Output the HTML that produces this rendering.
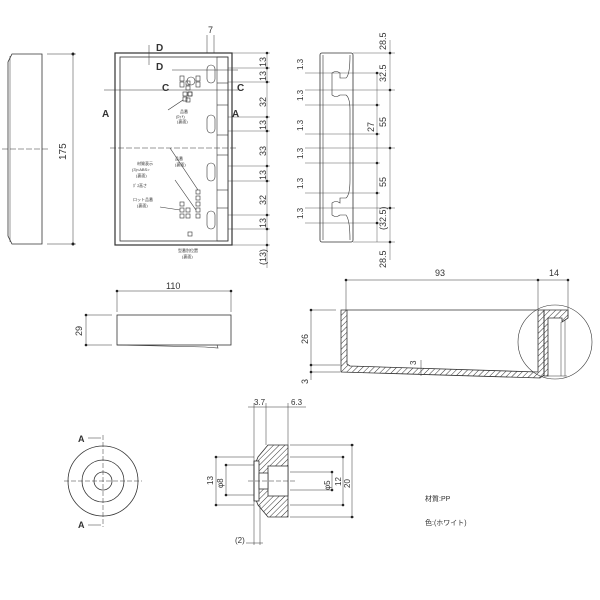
<!DOCTYPE html>
<html><head><meta charset="utf-8"><style>
html,body{margin:0;padding:0;background:#fff}
svg{display:block}
text{font-family:"Liberation Sans","Noto Sans CJK JP",sans-serif;fill:#333}
</style></head><body>
<svg width="600" height="600" viewBox="0 0 600 600" xmlns="http://www.w3.org/2000/svg">
<defs>
<pattern id="h" width="4" height="4" patternUnits="userSpaceOnUse" patternTransform="rotate(45)">
<line x1="0" y1="0" x2="0" y2="4" stroke="#333" stroke-width="1"/></pattern>
</defs>
<g stroke="#333" fill="none" stroke-width="0.8">
<!-- left side view -->
<path d="M12 54 L42 54 L42 244 L12 244 L8 236 L8 62 Z"/>
<line x1="10" y1="56" x2="10" y2="242" stroke-width="0.5"/>
<line x1="47" y1="54" x2="76" y2="54" stroke-width="0.5"/>
<line x1="47" y1="244" x2="76" y2="244" stroke-width="0.5"/>
<line x1="73" y1="54" x2="73" y2="244" stroke-width="0.5"/>
<line x1="2" y1="149" x2="48" y2="149" stroke-dasharray="6 2" stroke-width="0.6"/>
<!-- front view -->
<rect x="115" y="53" width="117" height="192" stroke-width="1.2"/>
<rect x="120" y="57" width="108" height="184"/>
<rect x="217" y="57" width="11" height="184" stroke-width="0.6"/>
<g stroke-width="0.6">
<line x1="217" y1="83" x2="228" y2="83"/><line x1="217" y1="105" x2="228" y2="105"/>
<line x1="217" y1="135" x2="228" y2="135"/><line x1="217" y1="155" x2="228" y2="155"/>
<line x1="217" y1="190" x2="228" y2="190"/><line x1="217" y1="208" x2="228" y2="208"/>
<rect x="207" y="65" width="8" height="18" rx="4"/><rect x="207" y="115" width="8" height="18" rx="4"/>
<rect x="207" y="163" width="8" height="18" rx="4"/><rect x="207" y="211" width="8" height="18" rx="4"/>
<rect x="186" y="81" width="4" height="4"/><rect x="186" y="86" width="4" height="4"/><rect x="186" y="98" width="4" height="4"/>
<circle cx="191" cy="81" r="4"/>
<rect x="180" y="76" width="4" height="5"/><rect x="180" y="82" width="4" height="5"/>
<rect x="196" y="76" width="4" height="5"/><rect x="196" y="82" width="4" height="5"/>
<rect x="183" y="92" width="4" height="4"/><rect x="183" y="97" width="4" height="4"/><rect x="188" y="92" width="4" height="4"/>
<rect x="188" y="92" width="4" height="4"/>
<rect x="196" y="190" width="4" height="4"/><rect x="196" y="196" width="4" height="4"/><rect x="196" y="202" width="4" height="4"/><rect x="196" y="208" width="4" height="4"/><rect x="196" y="214" width="4" height="4"/>
<rect x="180" y="202" width="4" height="4"/><rect x="180" y="208" width="4" height="4"/><rect x="180" y="214" width="4" height="4"/>
<rect x="186" y="208" width="4" height="4"/><rect x="186" y="214" width="4" height="4"/>
<rect x="188" y="232" width="4" height="4"/>
<line x1="168" y1="110" x2="183" y2="100"/>
<line x1="170" y1="148" x2="198" y2="190"/>
<line x1="175" y1="180" x2="196" y2="210"/>
<line x1="160" y1="207" x2="180" y2="210"/>
</g>
<line x1="104" y1="90" x2="238" y2="90" stroke-width="0.5"/>
<line x1="172" y1="70" x2="238" y2="70" stroke-width="0.5"/>
<line x1="110" y1="148" x2="236" y2="148" stroke-dasharray="6 2" stroke-width="0.5"/>
<line x1="149" y1="45" x2="149" y2="65" stroke-width="0.5"/>
<line x1="207" y1="35" x2="207" y2="53" stroke-width="0.5"/><line x1="214" y1="35" x2="214" y2="53" stroke-width="0.5"/>
<!-- front dims -->
<line x1="232" y1="53" x2="270" y2="53" stroke-width="0.4"/>
<g stroke-width="0.4">
<line x1="228" y1="68" x2="270" y2="68"/><line x1="228" y1="82" x2="270" y2="82"/>
<line x1="228" y1="117" x2="270" y2="117"/><line x1="228" y1="131" x2="270" y2="131"/>
<line x1="228" y1="166" x2="270" y2="166"/><line x1="228" y1="181" x2="270" y2="181"/>
<line x1="228" y1="215" x2="270" y2="215"/><line x1="228" y1="229" x2="270" y2="229"/>
<line x1="232" y1="245" x2="270" y2="245"/>
<line x1="267" y1="53" x2="267" y2="268"/>
</g>
<!-- side view 3 -->
<rect x="320" y="53" width="33" height="189" rx="2"/>
<path d="M323 55 L323 240 M350 55 Q350 75 346 78 L340 78 L340 73 Q336 70 332 73 L332 95 Q336 98 340 95 L346 95 Q350 98 350 110 L350 180 Q350 195 346 198 L340 198 L340 203 Q336 200 332 203 L332 215 Q336 218 340 215 L346 215 Q350 220 350 240" stroke-width="0.6"/>
<g stroke-width="0.4">
<line x1="305" y1="73" x2="380" y2="73"/><line x1="305" y1="90" x2="395" y2="90"/>
<line x1="305" y1="105" x2="380" y2="105"/><line x1="305" y1="134" x2="380" y2="134"/>
<line x1="305" y1="148" x2="395" y2="148"/><line x1="305" y1="163" x2="380" y2="163"/>
<line x1="305" y1="193" x2="380" y2="193"/><line x1="305" y1="208" x2="395" y2="208"/>
<line x1="305" y1="223" x2="380" y2="223"/>
<line x1="353" y1="53" x2="395" y2="53"/><line x1="353" y1="242" x2="395" y2="242"/>
<line x1="377" y1="73" x2="377" y2="242"/><line x1="390" y1="40" x2="390" y2="260"/>
</g>
<!-- 110 view -->
<line x1="117" y1="291" x2="231" y2="291" stroke-width="0.5"/>
<line x1="117" y1="291" x2="117" y2="312" stroke-width="0.5"/><line x1="231" y1="291" x2="231" y2="312" stroke-width="0.5"/>
<rect x="117" y="315" width="114" height="30"/>
<path d="M117 345 L205 347 L218 348 L217 345" stroke-width="0.6"/>
<line x1="85" y1="315" x2="112" y2="315" stroke-width="0.5"/><line x1="85" y1="345" x2="112" y2="345" stroke-width="0.5"/>
<line x1="86" y1="315" x2="86" y2="345" stroke-width="0.5"/>
<!-- section -->
<line x1="346" y1="280" x2="538" y2="280" stroke-width="0.5"/><line x1="538" y1="280" x2="568" y2="280" stroke-width="0.5"/>
<line x1="346" y1="280" x2="346" y2="310" stroke-width="0.5"/><line x1="538" y1="280" x2="538" y2="310" stroke-width="0.5"/><line x1="568" y1="280" x2="568" y2="318" stroke-width="0.5"/>
<line x1="347" y1="310" x2="537" y2="310"/>
<path d="M341 310 L347 310 L347 364 L350 366 L538 372 L538 310 L544 310 L544 375 L540 378 L341 372 Z" fill="url(#h)"/>
<path d="M544 310 L568 310 L568 318 L562 322 L562 318 L548 318 L548 376 L544 376 Z" fill="url(#h)"/>
<line x1="561" y1="322" x2="561" y2="376" stroke-width="0.5"/><line x1="565" y1="320" x2="565" y2="376" stroke-width="0.5"/>
<line x1="548" y1="376" x2="567" y2="376" stroke-width="0.5"/>
<circle cx="555" cy="342" r="37" stroke-width="0.6"/>
<line x1="310" y1="310" x2="336" y2="310" stroke-width="0.5"/><line x1="310" y1="365" x2="340" y2="365" stroke-width="0.5"/><line x1="310" y1="372" x2="340" y2="372" stroke-width="0.5"/>
<line x1="311" y1="310" x2="311" y2="380" stroke-width="0.5"/>
<line x1="421" y1="360" x2="421" y2="376" stroke-width="0.5"/>
<!-- circle part -->
<circle cx="103" cy="481" r="35"/><circle cx="103" cy="481" r="21"/><circle cx="103" cy="481" r="9"/>
<line x1="64" y1="481" x2="142" y2="481" stroke-dasharray="5 2" stroke-width="0.5"/>
<line x1="103" y1="435" x2="103" y2="527" stroke-dasharray="5 2" stroke-width="0.5"/>
<line x1="88" y1="438" x2="101" y2="438" stroke-width="0.5"/><line x1="88" y1="525" x2="101" y2="525" stroke-width="0.5"/>
<!-- bushing section -->
<path d="M268 445 L288 445 L288 517 L268 517 L258 505 L254 495 L254 467 L258 457 Z" fill="url(#h)"/>
<rect x="254" y="461" width="5" height="40" fill="#fff"/>
<rect x="268" y="466" width="20" height="30" fill="#fff"/>
<rect x="259" y="473" width="9" height="16" fill="#fff"/>
<line x1="254" y1="461" x2="254" y2="501"/>
<line x1="254" y1="403" x2="254" y2="545" stroke-width="0.5"/><line x1="266" y1="403" x2="266" y2="445" stroke-width="0.5"/><line x1="288" y1="403" x2="288" y2="445" stroke-width="0.5"/>
<line x1="260" y1="505" x2="260" y2="545" stroke-width="0.5"/>
<line x1="248" y1="407" x2="306" y2="407" stroke-width="0.5"/>
<line x1="246" y1="543" x2="263" y2="543" stroke-width="0.5"/>
<line x1="215" y1="457" x2="254" y2="457" stroke-width="0.5"/><line x1="215" y1="505" x2="254" y2="505" stroke-width="0.5"/>
<line x1="216" y1="457" x2="216" y2="505" stroke-width="0.5"/>
<line x1="226" y1="465" x2="254" y2="465" stroke-width="0.5"/><line x1="226" y1="495" x2="254" y2="495" stroke-width="0.5"/>
<line x1="226" y1="465" x2="226" y2="495" stroke-width="0.5"/>
<line x1="248" y1="481" x2="296" y2="481" stroke-dasharray="5 2" stroke-width="0.5"/>
<line x1="290" y1="445" x2="354" y2="445" stroke-width="0.5"/><line x1="290" y1="517" x2="354" y2="517" stroke-width="0.5"/>
<line x1="352" y1="445" x2="352" y2="517" stroke-width="0.5"/>
<line x1="290" y1="457" x2="344" y2="457" stroke-width="0.5"/><line x1="290" y1="505" x2="344" y2="505" stroke-width="0.5"/>
<line x1="343" y1="457" x2="343" y2="505" stroke-width="0.5"/>
<line x1="290" y1="472" x2="332" y2="472" stroke-width="0.5"/><line x1="290" y1="490" x2="332" y2="490" stroke-width="0.5"/>
<line x1="332" y1="472" x2="332" y2="490" stroke-width="0.5"/>
</g>
<!-- dots -->
<g fill="#222">
<circle cx="73" cy="54" r="1.5"/><circle cx="73" cy="244" r="1.5"/>
<circle cx="267" cy="53" r="1.3"/><circle cx="267" cy="68" r="1.3"/><circle cx="267" cy="82" r="1.3"/><circle cx="267" cy="117" r="1.3"/><circle cx="267" cy="131" r="1.3"/><circle cx="267" cy="166" r="1.3"/><circle cx="267" cy="181" r="1.3"/><circle cx="267" cy="215" r="1.3"/><circle cx="267" cy="229" r="1.3"/><circle cx="267" cy="245" r="1.3"/>
<circle cx="390" cy="53" r="1.3"/><circle cx="390" cy="90" r="1.3"/><circle cx="390" cy="148" r="1.3"/><circle cx="390" cy="208" r="1.3"/><circle cx="390" cy="242" r="1.3"/>
<circle cx="377" cy="73" r="1.3"/><circle cx="377" cy="105" r="1.3"/><circle cx="377" cy="134" r="1.3"/><circle cx="377" cy="163" r="1.3"/><circle cx="377" cy="193" r="1.3"/><circle cx="377" cy="223" r="1.3"/>
<circle cx="117" cy="291" r="1.3"/><circle cx="231" cy="291" r="1.3"/><circle cx="86" cy="315" r="1.3"/><circle cx="86" cy="345" r="1.3"/>
<circle cx="346" cy="280" r="1.3"/><circle cx="538" cy="280" r="1.3"/><circle cx="568" cy="280" r="1.3"/>
<circle cx="311" cy="310" r="1.3"/><circle cx="311" cy="365" r="1.3"/><circle cx="311" cy="372" r="1.3"/>
<circle cx="352" cy="445" r="1.3"/><circle cx="352" cy="517" r="1.3"/><circle cx="343" cy="457" r="1.3"/><circle cx="343" cy="505" r="1.3"/><circle cx="332" cy="472" r="1.3"/><circle cx="332" cy="490" r="1.3"/>
<circle cx="216" cy="457" r="1.3"/><circle cx="216" cy="505" r="1.3"/><circle cx="226" cy="465" r="1.3"/><circle cx="226" cy="495" r="1.3"/>
</g>
<!-- labels -->
<g font-size="10">
<text transform="translate(66,160) rotate(-90)">175</text>
<text x="208" y="33" font-size="9">7</text>
<text x="156" y="51" font-size="10" font-weight="bold">D</text>
<text x="156" y="70" font-size="10" font-weight="bold">D</text>
<text x="162" y="91" font-size="10" font-weight="bold">C</text>
<text x="237" y="91" font-size="10" font-weight="bold">C</text>
<text x="102" y="117" font-size="10" font-weight="bold">A</text>
<text x="232" y="117" font-size="10" font-weight="bold">A</text>
<g font-size="9">
<text transform="translate(266,67) rotate(-90)">13</text>
<text transform="translate(266,81) rotate(-90)">13</text>
<text transform="translate(266,107) rotate(-90)">32</text>
<text transform="translate(266,130) rotate(-90)">13</text>
<text transform="translate(266,156) rotate(-90)">33</text>
<text transform="translate(266,180) rotate(-90)">13</text>
<text transform="translate(266,205) rotate(-90)">32</text>
<text transform="translate(266,228) rotate(-90)">13</text>
<text transform="translate(266,265) rotate(-90)">(13)</text>
<text transform="translate(386,50) rotate(-90)">28.5</text>
<text transform="translate(386,82) rotate(-90)">32.5</text>
<text transform="translate(386,127) rotate(-90)">55</text>
<text transform="translate(374,132) rotate(-90)">27</text>
<text transform="translate(386,187) rotate(-90)">55</text>
<text transform="translate(386,230) rotate(-90)">(32.5)</text>
<text transform="translate(386,268) rotate(-90)">28.5</text>
</g>
<g font-size="8">
<text transform="translate(303,70) rotate(-90)">1.3</text>
<text transform="translate(303,101) rotate(-90)">1.3</text>
<text transform="translate(303,131) rotate(-90)">1.3</text>
<text transform="translate(303,159) rotate(-90)">1.3</text>
<text transform="translate(303,189) rotate(-90)">1.3</text>
<text transform="translate(303,219) rotate(-90)">1.3</text>
</g>
<g font-size="4">
<text x="180" y="113">品番</text><text x="176" y="118">(ﾛｯﾄ)</text><text x="177" y="123">(裏面)</text>
<text x="175" y="160">品番</text><text x="175" y="166">(裏面)</text>
<text x="137" y="165">材質表示</text><text x="132" y="171">(3)&lt;ABS&gt;</text><text x="136" y="177">(裏面)</text>
<text x="133" y="187">ﾎﾞｽ高さ</text>
<text x="133" y="201">ロット品番</text><text x="137" y="207">(裏面)</text>
<text x="178" y="252">型番別位置</text><text x="182" y="258">(裏面)</text>
</g>
<text x="166" y="289" font-size="9">110</text>
<text transform="translate(82,336) rotate(-90)" font-size="9">29</text>
<text x="435" y="276" font-size="9">93</text>
<text x="549" y="276" font-size="9">14</text>
<text transform="translate(308,344) rotate(-90)" font-size="9">26</text>
<text transform="translate(308,384) rotate(-90)" font-size="9">3</text>
<text transform="translate(416,365) rotate(-90)" font-size="8">3</text>
<text x="78" y="442" font-size="9" font-weight="bold">A</text>
<text x="78" y="528" font-size="9" font-weight="bold">A</text>
<g font-size="8">
<text x="254" y="405">3.7</text><text x="291" y="405">6.3</text>
<text transform="translate(213,485) rotate(-90)">13</text>
<text transform="translate(223,488) rotate(-90)">φ8</text>
<text transform="translate(330,490) rotate(-90)">φ5</text>
<text transform="translate(341,486) rotate(-90)">12</text>
<text transform="translate(350,488) rotate(-90)">20</text>
<text x="235" y="543">(2)</text>
</g>
<text x="425" y="501" font-size="7">材質:PP</text>
<text x="425" y="525" font-size="7">色:(ホワイト)</text>
</g>
</svg>
</body></html>
